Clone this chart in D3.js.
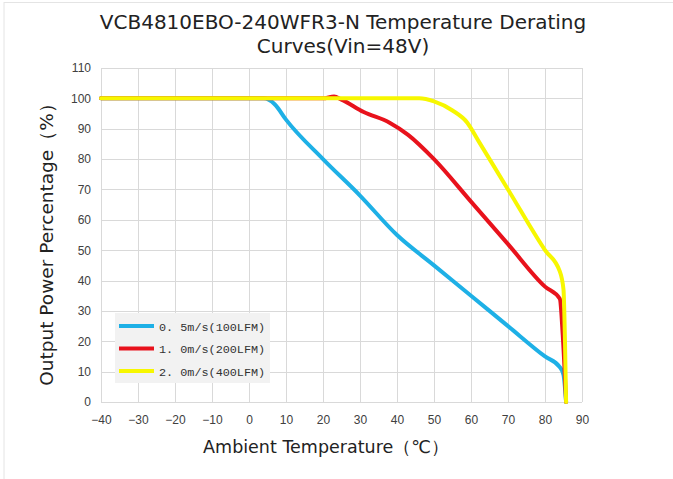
<!DOCTYPE html>
<html>
<head>
<meta charset="utf-8">
<script src="https://cdn.jsdelivr.net/npm/d3@7"></script>
<style>
  body { margin: 0; background: #fff; }
  svg { display: block; }
</style>
</head>
<body>
<script>
// readings
const temps05 = [-40, 0, 4, 7, 10, 20, 30, 40, 50, 60, 70, 80, 84, 85, 85.7];
const power05 = [100, 100, 100, 98, 93, 80, 68, 55, 45, 35, 25, 15, 11.5, 9, 0];

const temps10 = [-40, 0, 20, 23, 25, 31, 38, 43, 50, 60, 70, 80, 84, 84.8, 85.7];
const power10 = [100, 100, 100, 100.6, 99.6, 95.5, 92, 88, 80, 66, 52, 38, 34, 22, 0];

const temps20 = [-40, 0, 40, 46, 50, 55, 59, 62, 70, 80, 84, 85, 85.4, 85.7];
const power20 = [100, 100, 100, 100, 99, 96, 92, 86, 70, 50, 43, 37, 20, 0];

const seriesNames = ["0. 5m/s(100LFM)", "1. 0m/s(200LFM)", "2. 0m/s(400LFM)"];
const seriesColors = ["#1eb0e6", "#e8121c", "#f7f700"];

const xTicks = [-40, -30, -20, -10, 0, 10, 20, 30, 40, 50, 60, 70, 80, 90];
const yTicks = [0, 10, 20, 30, 40, 50, 60, 70, 80, 90, 100, 110];

const W = 673, H = 479;
const svg = d3.select("body").append("svg").attr("width", W).attr("height", H);

// faint frame of the original screenshot
svg.append("line").attr("x1", 4).attr("x2", 4).attr("y1", 2).attr("y2", H)
  .attr("stroke", "#e4e4e4").attr("stroke-width", 1);
svg.append("line").attr("x1", 4).attr("x2", W).attr("y1", 2.5).attr("y2", 2.5)
  .attr("stroke", "#e4e4e4").attr("stroke-width", 1);

const x = d3.scaleLinear().domain([-40, 90]).range([101, 582]);
const y = d3.scaleLinear().domain([0, 110]).range([402, 68]);

//grid
const grid = svg.append("g");
grid.selectAll("line.v").data(xTicks).enter().append("line")
  .attr("x1", d => Math.round(x(d)) + 0.5).attr("x2", d => Math.round(x(d)) + 0.5)
  .attr("y1", y(110)).attr("y2", y(0))
  .attr("stroke", "#d9d9d9");
grid.selectAll("line.h").data(yTicks).enter().append("line")
  .attr("y1", d => Math.round(y(d)) + 0.5).attr("y2", d => Math.round(y(d)) + 0.5)
  .attr("x1", x(-40)).attr("x2", x(90))
  .attr("stroke", "#d9d9d9");

//axes
const xAxis = svg.append("g").attr("transform", `translate(0,${y(0)})`)
  .call(d3.axisBottom(x).tickValues(xTicks).tickSize(0).tickPadding(13).tickFormat(d => d < 0 ? "\u2212" + (-d) : d));
const yAxis = svg.append("g").attr("transform", `translate(${x(-40)},0)`)
  .call(d3.axisLeft(y).tickValues(yTicks).tickSize(0).tickPadding(10));
[xAxis, yAxis].forEach(a => {
  a.select(".domain").remove();
  a.selectAll("text").style("font-family", "Liberation Sans, Arial, sans-serif")
    .style("font-size", "12px").attr("fill", "#404040");
});

//curves
const line = d3.line().x(d => x(d[0])).y(d => y(d[1])).curve(d3.curveMonotoneX);
const series = [
  d3.zip(temps05, power05),
  d3.zip(temps10, power10),
  d3.zip(temps20, power20)
];
svg.append("g").selectAll("path").data(series).enter().append("path")
  .attr("d", line)
  .attr("fill", "none")
  .attr("stroke", (d, i) => seriesColors[i])
  .attr("stroke-width", 4)
  .attr("stroke-linejoin", "round")
  .attr("stroke-linecap", "round");

//legend
const lg = svg.append("g");
lg.append("rect").attr("x", 115).attr("y", 313).attr("width", 155).attr("height", 70)
  .attr("fill", "#f2f2f2");
seriesNames.forEach((name, i) => {
  const yy = 326 + i * 22.5;
  lg.append("line").attr("x1", 119).attr("x2", 154).attr("y1", yy).attr("y2", yy)
    .attr("stroke", seriesColors[i]).attr("stroke-width", 4);
  lg.append("text").attr("x", 159).attr("y", yy + 4.5).text(name)
    .style("font-family", "Liberation Mono, DejaVu Sans Mono, monospace")
    .style("font-size", "11.8px").attr("fill", "#333");
});

//titles
const title = svg.append("text").attr("text-anchor", "middle")
  .style("font-family", "DejaVu Sans, sans-serif").style("font-size", "20px").attr("fill", "#222");
title.append("tspan").attr("x", 343).attr("y", 29).text("VCB4810EBO-240WFR3-N Temperature Derating");
title.append("tspan").attr("x", 343).attr("y", 53).text("Curves(Vin=48V)");

svg.append("text").attr("x", 326).attr("y", 453).attr("text-anchor", "middle")
  .style("font-family", "DejaVu Sans, sans-serif").style("font-size", "17.5px").attr("fill", "#222")
  .text("Ambient Temperature\uFF08\u2103\uFF09");

svg.append("text").attr("transform", "translate(53,240) rotate(-90)").attr("text-anchor", "middle")
  .style("font-family", "DejaVu Sans, sans-serif").style("font-size", "18.5px").attr("fill", "#222")
  .text("Output Power Percentage\uFF08%\uFF09");
</script>
</body>
</html>
